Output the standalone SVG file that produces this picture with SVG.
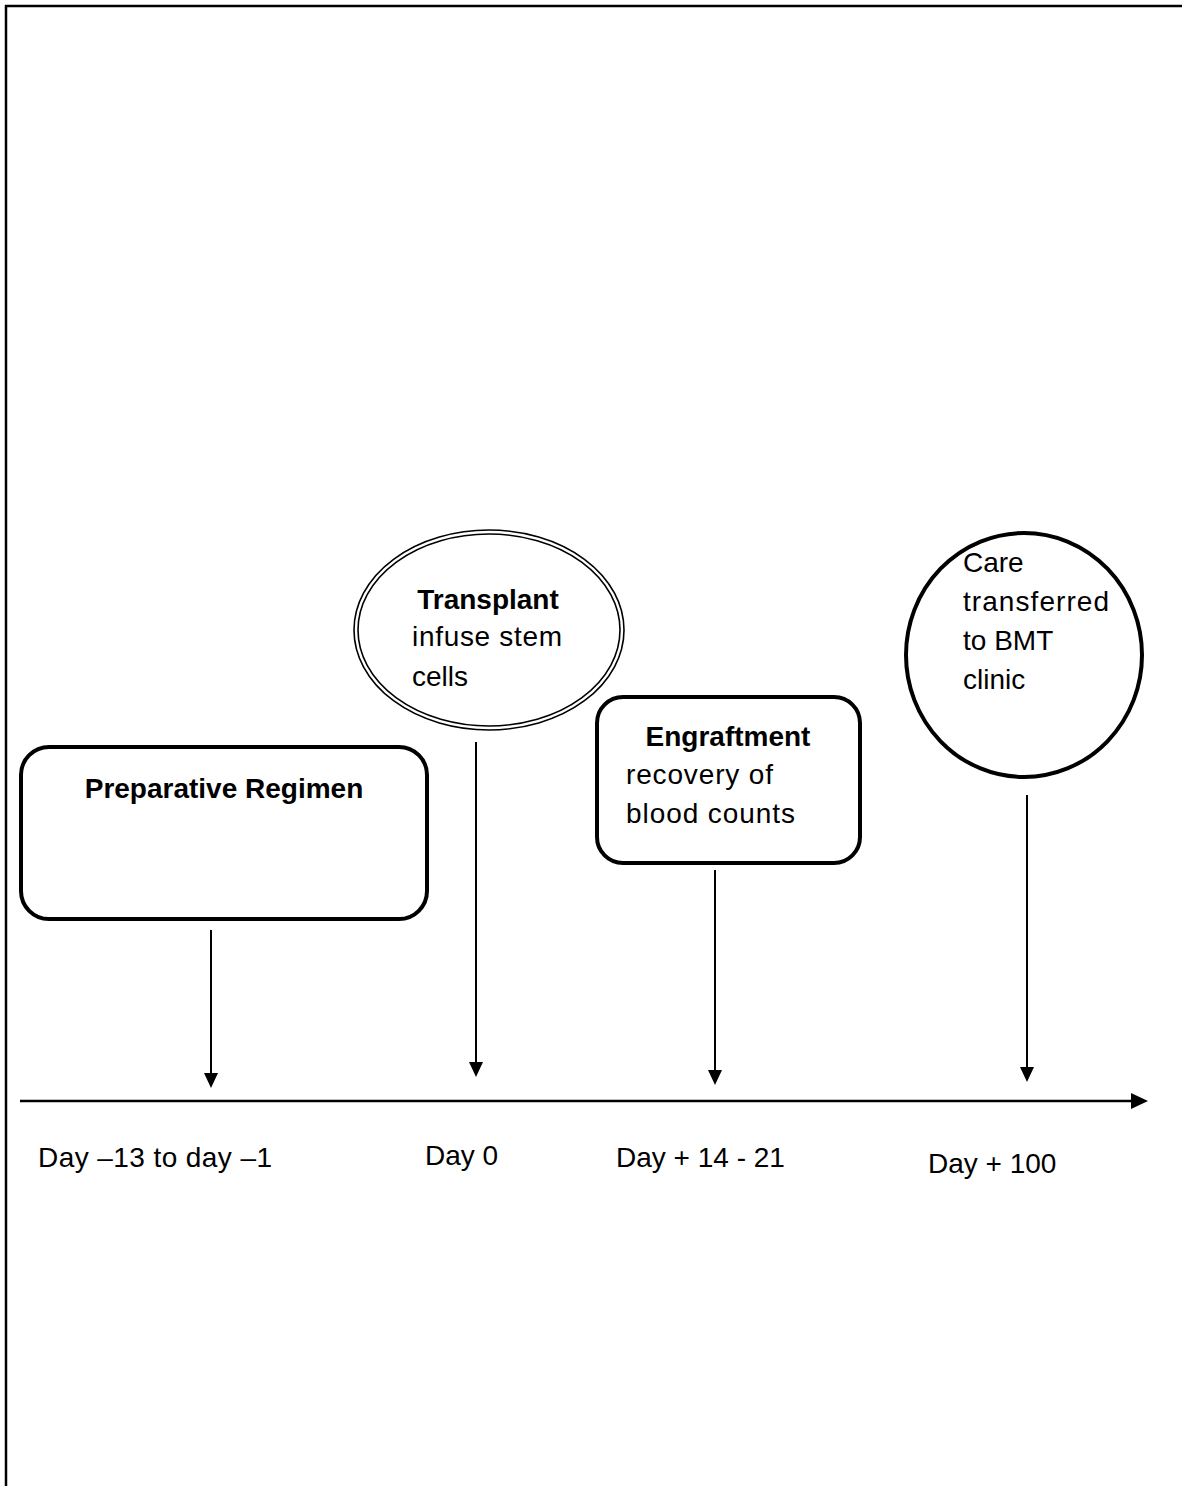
<svg xmlns="http://www.w3.org/2000/svg" width="1182" height="1486" viewBox="0 0 1182 1486">
  <style>
    .frame { stroke: #000; stroke-width: 2.5; fill: none; }
    .box { fill: #fff; stroke: #000; stroke-width: 4; }
    .thin { fill: none; stroke: #000; stroke-width: 1.6; }
    .conn { stroke: #000; stroke-width: 2; fill: none; }
    .axis { stroke: #000; stroke-width: 2.5; fill: none; }
    text { font-family: "Liberation Sans", Arial, sans-serif; font-size: 28px; fill: #000; }
    .b { font-weight: bold; }
  </style>
  <defs>
    <marker id="ah" markerUnits="userSpaceOnUse" markerWidth="16" markerHeight="16" refX="7" refY="7" orient="auto">
      <path d="M0,0 L15,7 L0,14 z" fill="#000"/>
    </marker>
    <marker id="ahx" markerUnits="userSpaceOnUse" markerWidth="18" markerHeight="18" refX="8" refY="8" orient="auto">
      <path d="M0,0 L17,8 L0,16 z" fill="#000"/>
    </marker>
  </defs>
  <rect width="1182" height="1486" fill="#fff"/>
  <g id="frame">
    <line class="frame" x1="5" y1="6" x2="1182" y2="6"/>
    <line class="frame" x1="6" y1="5" x2="6" y2="1486"/>
  </g>

  <g id="connectors">
    <line class="conn" x1="211" y1="930" x2="211" y2="1080" marker-end="url(#ah)"/>
    <line class="conn" x1="476" y1="742" x2="476" y2="1069" marker-end="url(#ah)"/>
    <line class="conn" x1="715" y1="870" x2="715" y2="1077" marker-end="url(#ah)"/>
    <line class="conn" x1="1027" y1="795" x2="1027" y2="1074" marker-end="url(#ah)"/>
    <line class="axis" x1="20" y1="1101" x2="1139" y2="1101" marker-end="url(#ahx)"/>
  </g>

  <g id="preparative">
    <rect class="box" x="21" y="747" width="406" height="172" rx="28"/>
    <text class="b" x="224" y="798" text-anchor="middle">Preparative Regimen</text>
  </g>

  <g id="transplant">
    <ellipse class="thin" cx="489" cy="630" rx="135" ry="100"/>
    <ellipse class="thin" cx="489" cy="630" rx="131" ry="96"/>
    <text class="b" x="488" y="609" text-anchor="middle">Transplant</text>
    <text x="412" y="646" textLength="150">infuse stem</text>
    <text x="412" y="686">cells</text>
  </g>

  <g id="engraftment">
    <rect class="box" x="597" y="697" width="263" height="166" rx="26"/>
    <text class="b" x="728" y="746" text-anchor="middle">Engraftment</text>
    <text x="626" y="784" textLength="147">recovery of</text>
    <text x="626" y="823" textLength="169">blood counts</text>
  </g>

  <g id="care">
    <ellipse class="box" cx="1024" cy="655" rx="118" ry="122"/>
    <text x="963" y="572">Care</text>
    <text x="963" y="611" textLength="146">transferred</text>
    <text x="963" y="650">to BMT</text>
    <text x="963" y="689">clinic</text>
  </g>

  <g id="labels">
    <text x="38" y="1167" textLength="234">Day –13 to day –1</text>
    <text x="425" y="1165">Day 0</text>
    <text x="616" y="1167">Day + 14 - 21</text>
    <text x="928" y="1173">Day + 100</text>
  </g>
</svg>
